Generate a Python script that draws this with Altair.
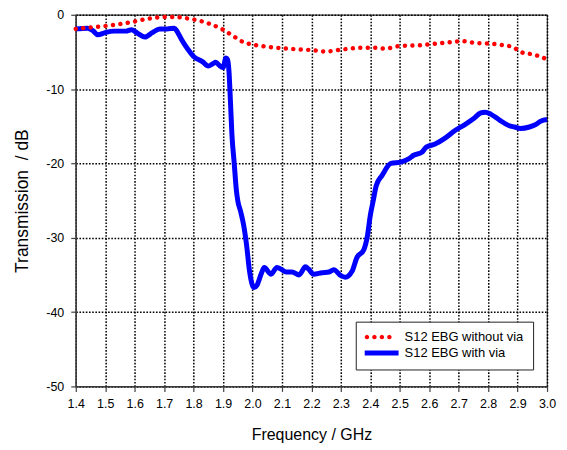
import math
import altair as alt
import pandas as pd

# ---- data ----
series_names = ["S12 EBG without via", "S12 EBG with via"]

freq_nov = [1.40, 1.45, 1.50, 1.55, 1.60, 1.65, 1.70, 1.74, 1.78, 1.82, 1.86, 1.90,
            1.94, 1.97, 2.00, 2.05, 2.10, 2.15, 2.20, 2.25, 2.28, 2.32, 2.36, 2.42,
            2.45, 2.50, 2.57, 2.62, 2.67, 2.71, 2.76, 2.81, 2.86, 2.885, 2.91, 2.96, 3.00]
db_nov = [-1.9, -1.7, -1.5, -1.25, -0.9, -0.5, -0.3, -0.3, -0.5, -0.8, -1.3, -2.0,
          -3.0, -3.7, -4.0, -4.3, -4.5, -4.65, -4.75, -4.95, -4.8, -4.6, -4.45, -4.45,
          -4.55, -4.2, -4.1, -3.9, -3.7, -3.55, -3.8, -3.9, -4.15, -4.35, -5.0, -5.4, -6.0]

freq_via = [1.40, 1.44, 1.46, 1.475, 1.50, 1.53, 1.57, 1.59, 1.61, 1.635, 1.66, 1.685,
            1.71, 1.735, 1.745, 1.76, 1.78, 1.80, 1.83, 1.85, 1.865, 1.875, 1.89, 1.90,
            1.91, 1.915, 1.92, 1.925, 1.93, 1.938, 1.945, 1.95, 1.96, 1.97, 1.98, 1.99,
            2.005, 2.015, 2.03, 2.04, 2.063, 2.083, 2.10, 2.114, 2.134, 2.158, 2.18, 2.19,
            2.207, 2.236, 2.26, 2.276, 2.30, 2.315, 2.338, 2.354, 2.378, 2.39, 2.40, 2.41,
            2.42, 2.44, 2.47, 2.506, 2.53, 2.547, 2.575, 2.59, 2.62, 2.65, 2.69, 2.72,
            2.75, 2.775, 2.79, 2.81, 2.84, 2.87, 2.89, 2.91, 2.94, 2.96, 2.98, 3.00]
db_via = [-1.9, -1.8, -2.2, -2.7, -2.4, -2.2, -2.2, -2.0, -2.5, -3.0, -2.4, -1.9,
          -1.9, -1.8, -2.3, -3.4, -4.6, -5.6, -6.3, -6.9, -6.6, -6.4, -6.9, -7.1,
          -5.8, -6.0, -7.5, -11.5, -16.0, -20.0, -23.5, -25.0, -26.5, -28.3, -31.0, -34.5,
          -36.7, -36.4, -34.8, -34.0, -34.9, -34.0, -34.3, -34.6, -34.6, -35.0, -33.9, -34.2,
          -34.9, -34.7, -34.6, -34.3, -35.1, -35.3, -34.5, -32.7, -31.6, -29.8, -27.0, -25.0,
          -23.0, -21.6, -20.0, -19.8, -19.4, -18.9, -18.5, -17.8, -17.4, -16.7, -15.5, -14.8,
          -14.0, -13.2, -13.1, -13.4, -14.2, -14.9, -15.1, -15.3, -15.1, -14.8, -14.3, -14.1]

x_ticks = [1.4, 1.5, 1.6, 1.7, 1.8, 1.9, 2.0, 2.1, 2.2, 2.3, 2.4, 2.5, 2.6, 2.7, 2.8, 2.9, 3.0]
y_ticks = [0, -10, -20, -30, -40, -50]

# ---- tables ----
df_nov = pd.DataFrame({"f": freq_nov, "db": db_nov, "s": series_names[0]})
df_via = pd.DataFrame({"f": freq_via, "db": db_via, "s": series_names[1]})
df_key = pd.DataFrame({"f": [freq_nov[0], freq_via[0]],
                       "db": [db_nov[0], db_via[0]],
                       "s": series_names})

# ---- legend symbol shapes (unit = sqrt(symbolSize)/2) ----
def dot(cx, r, n=12):
    pts = [(cx + r * math.cos(2 * math.pi * k / n), r * math.sin(2 * math.pi * k / n)) for k in range(n)]
    return "M" + "L".join(f"{px:.3f},{py:.3f}" for px, py in pts) + "Z"

dots_path = "".join(dot(c, 0.346) for c in [-0.654, 0.5, 1.654, 2.808])
bar_path = "M-1,-0.385L4.23,-0.385L4.23,0.385L-1,0.385Z"

x = alt.X("f:Q",
          scale=alt.Scale(domain=[1.4, 3.0], nice=False, zero=False),
          axis=alt.Axis(values=x_ticks, title="Frequency / GHz",
                        labelExpr="format(datum.value, '.1f')",
                        labelFlush=False, labelOverlap=False,
                        titleFontSize=16, labelPadding=6, titlePadding=17))
y = alt.Y("db:Q",
          scale=alt.Scale(domain=[-50, 0], nice=False),
          axis=alt.Axis(values=y_ticks, title="Transmission\u00a0 / dB",
                        labelExpr="toString(datum.value)",
                        labelFlush=False, labelOverlap=False,
                        titleFontSize=17.5, labelPadding=7, titlePadding=14))

legend = alt.Legend(title=None, orient="none", legendX=281, legendY=308,
                    symbolSize=169, symbolOpacity=1, symbolStrokeWidth=0,
                    labelOffset=27, padding=9, rowPadding=2,
                    fillColor="white", strokeColor="#222222",
                    labelFont="Liberation Sans", labelFontSize=13, labelColor="black")

blue = alt.Chart(df_via).mark_line(color="#0000ff", strokeWidth=5, interpolate="monotone",
                                   strokeJoin="round").encode(x=x, y=y)
red = alt.Chart(df_nov).mark_line(color="#ff0000", strokeWidth=4.5, strokeDash=[0.01, 7.5],
                                  strokeCap="round", interpolate="monotone").encode(x=x, y=y)
key = alt.Chart(df_key).mark_point(filled=True, opacity=0, size=169).encode(
    x=x, y=y,
    color=alt.Color("s:N", scale=alt.Scale(domain=series_names, range=["#ff0000", "#0000ff"]),
                    legend=legend),
    shape=alt.Shape("s:N", scale=alt.Scale(domain=series_names, range=[dots_path, bar_path]),
                    legend=legend),
)

chart = alt.layer(blue, red, key).properties(
    width=473, height=373,
    autosize=alt.AutoSizeParams(type="none"),
    padding={"left": 68, "top": 6, "right": 12, "bottom": 60},
).configure_view(stroke="#404040", strokeWidth=1.2).configure_axis(
    grid=True, gridColor="black", gridDash=[1.6, 1.6], gridWidth=1.5,
    domainColor="#404040", domainWidth=1.3,
    tickColor="#404040", tickSize=5, tickWidth=1.2,
    labelFont="Liberation Sans", labelFontSize=12.5, labelColor="black",
    titleFont="Liberation Sans", titleFontWeight="normal", titleColor="black",
)

chart.save("out.html", embed_options={"renderer": "svg", "actions": False})
